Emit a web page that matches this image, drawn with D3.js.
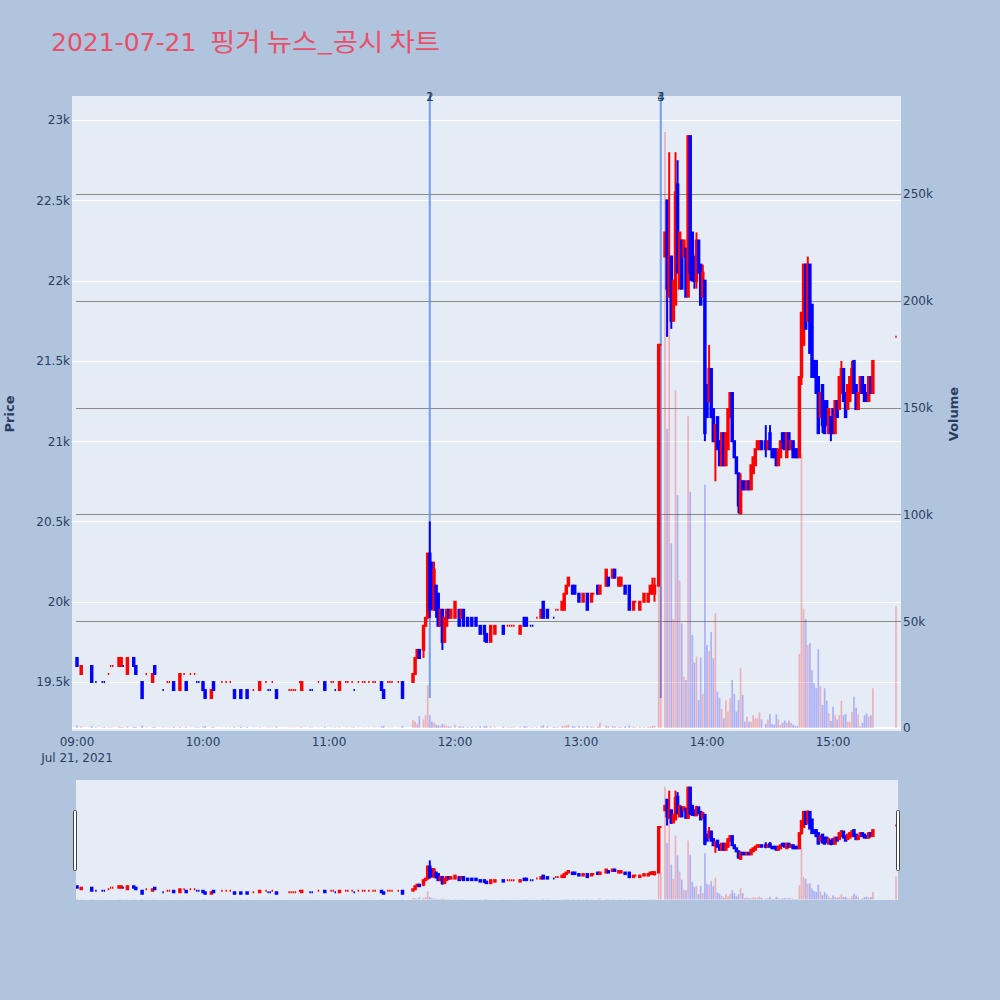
<!DOCTYPE html>
<html>
<head>
<meta charset="utf-8">
<script src="https://cdn.jsdelivr.net/npm/d3@7"></script>
<style>
  html, body { margin: 0; padding: 0; background: #b0c4de; }
  svg { display: block; }
</style>
</head>
<body>
<script>
// ---------------- DATA ----------------
// minutes after 09:00 for each 1-minute candle
const minute = [
  0,2,7,9,12,13,15,16,17,20, 21,22,24,27,28,31,33,36,37,41,
  43,44,46,49,51,52,54,56,57,58, 60,61,64,65,69,71,73,75,78,81,
  84,87,90,91,92,93,95,101,102,103, 104,106,107,111,112,115,118,121,122,123,
  125,128,129,131,132,134,136,137,139,141, 142,145,146,148,149,150,153,155,
  160,161,162,163,165,166,167,168,169,170, 171,172,173,174,175,176,177,178,180,182,
  183,184,186,188,190,192,194,195,197,199, 203,205,206,207,208,211,213,214,216,217,
  219,221,222,224,227,228,229,231,232,233, 234,236,237,239,241,243,245,246,248,249,
  252,253,255,256,258,259,261,263,265,266, 268,270,272,273,274,275,
  277,278,280,281,282,283,284,285,286,287, 288,289,290,291,292,293,294,295,296,297,
  298,299,300,301,302,303,304,305,306,307, 308,309,310,311,312,313,314,315,316,317,
  318,319,320,321,322,323,324,325,326,328, 329,330,331,332,333,334,335,336,337,338,
  339,340,341,342,343,344,345,346,347,348, 349,350,351,352,353,354,355,356,357,358,
  359,360,361,362,363,364,365,366,367,368, 369,370,371,372,373,374,375,376,377,378,
  379,390
];
const open = [
  19650,19550,19600,19500,19500,19500,19550,19600,19600,19600, 19600,19600,19550,19650,19600,19500,19550,19500,19600,19450,
  19500,19500,19500,19450,19550,19500,19550,19550,19500,19500, 19500,19450,19400,19500,19500,19500,19500,19450,19450,19450,
  19450,19450,19500,19450,19450,19500,19450,19450,19450,19450, 19450,19500,19450,19450,19450,19500,19500,19500,19500,19450,
  19450,19500,19500,19500,19450,19500,19500,19500,19500,19500, 19500,19500,19450,19500,19500,19500,19500,19500,
  19500,19550,19650,19700,19700,19850,19900,20300,20150,19950, 20100,20050,19850,19950,19750,19850,19950,19900,19900,19950,
  19900,19950,19900,19900,19900,19850,19850,19800,19750,19800, 19850,19850,19850,19850,19850,19800,19900,19900,19850,19850,
  19900,19900,20000,19950,19900,19950,19950,19950,19950,20050, 20100,20100,20100,20050,20000,20050,20000,20050,20100,20050,
  20100,20150,20150,20200,20100,20100,20100,20100,19950,20000, 19950,20000,20000,20050,20050,20050,
  20100,21600,22150,22500,21900,22150,21750,21850,22600,21950, 22250,22150,22200,21900,22900,22300,22150,22000,22250,22100,
  21900,22000,21350,21250,21450,21200,21000,21150,21000,20850, 21050,20850,20950,21150,21300,21000,20900,20800,20550,20750,
  20750,20700,20750,20700,20800,20850,20950,20950,21000,21000, 20950,21050,20950,20950,20950,20850,20900,21050,21050,20900,
  21050,20950,21000,20950,20950,20900,21400,21600,22100,21750, 22100,21850,21500,21500,21400,21150,21350,21250,21250,21050,
  21150,21200,21050,21250,21200,21300,21450,21300,21200,21250, 21300,21500,21350,21200,21300,21400,21350,21300,21250,21400,
  21300,21650
];
const high = [
  19650,19600,19600,19500,19500,19500,19550,19600,19600,19650, 19650,19600,19650,19650,19600,19500,19550,19550,19600,19450,
  19500,19500,19500,19550,19550,19500,19550,19550,19500,19500, 19500,19450,19450,19500,19500,19500,19500,19450,19450,19450,
  19450,19500,19500,19450,19450,19500,19450,19450,19450,19450, 19450,19500,19500,19450,19450,19500,19500,19500,19500,19450,
  19500,19500,19500,19500,19450,19500,19500,19500,19500,19500, 19500,19500,19450,19500,19500,19500,19500,19500,
  19550,19650,19700,19700,19850,19900,20300,20500,20250,20250, 20100,20050,19950,19950,19900,19950,19950,19950,20000,19950,
  19950,19950,19900,19900,19900,19850,19850,19800,19850,19850, 19850,19850,19850,19850,19850,19850,19900,19900,19850,19850,
  19900,19950,20000,19950,19900,19950,19950,20000,20050,20100, 20150,20100,20100,20050,20050,20050,20050,20050,20100,20100,
  20200,20150,20200,20200,20150,20150,20100,20100,20000,20000, 20000,20050,20050,20100,20150,20150,
  21600,21600,22300,22500,22800,22150,22000,22800,22750,22300, 22250,22250,22200,22900,22900,22300,22150,22300,22250,22100,
  22100,22000,21350,21600,21450,21200,21100,21150,21000,21050, 21050,21050,21200,21300,21300,21000,20900,20800,20800,20750,
  20750,20750,20750,20850,20900,20950,21000,21000,21000,21100, 21000,21100,20950,20950,20950,20950,21000,21050,21050,21050,
  21050,21000,21000,20950,20950,21400,21800,22100,22100,22150, 22100,21850,21500,21500,21400,21300,21350,21250,21250,21200,
  21150,21200,21250,21250,21400,21500,21450,21300,21350,21400, 21500,21500,21350,21300,21400,21400,21350,21300,21400,21400,
  21500,21650
];
const low = [
  19600,19550,19500,19500,19500,19500,19550,19600,19600,19600, 19600,19600,19550,19600,19550,19400,19550,19500,19550,19450,
  19500,19500,19450,19450,19550,19450,19550,19550,19500,19500, 19450,19400,19400,19450,19500,19500,19500,19400,19400,19400,
  19450,19450,19500,19450,19450,19500,19400,19450,19450,19450, 19450,19500,19450,19450,19450,19500,19450,19500,19500,19450,
  19450,19500,19500,19500,19450,19500,19500,19500,19500,19500, 19500,19450,19400,19500,19500,19500,19500,19400,
  19500,19550,19650,19650,19650,19850,19900,19900,19950,19950, 19900,19850,19850,19700,19750,19850,19900,19900,19900,19850,
  19900,19850,19850,19850,19850,19800,19750,19750,19750,19800, 19800,19850,19850,19850,19850,19800,19850,19850,19850,19850,
  19900,19900,19900,19900,19900,19950,19950,19950,19950,20050, 20100,20050,20050,20000,20000,19950,20000,20050,20050,20050,
  20100,20100,20150,20150,20100,20100,20050,19950,19950,20000, 19950,20000,20000,20050,20050,20000,
  20100,21600,22150,21650,21900,21700,21750,21850,22050,21950, 21950,22150,21900,21900,22000,22000,21950,21950,22050,21850,
  21900,21000,21150,21250,21150,21000,20750,20950,20850,20850, 20850,20850,20950,21150,21000,20900,20800,20550,20550,20700,
  20700,20700,20700,20700,20800,20850,20950,20950,20950,20900, 20950,20950,20900,20900,20850,20850,20900,20950,20950,20900,
  20950,20950,20900,20900,20900,20900,21350,21600,21700,21750, 21550,21400,21400,21300,21050,21150,21050,21050,21100,21050,
  21000,21050,21050,21150,21200,21300,21250,21150,21200,21250, 21300,21300,21200,21200,21300,21300,21250,21250,21250,21300,
  21300,21650
];
const close = [
  19600,19600,19500,19500,19500,19500,19550,19600,19600,19650, 19650,19600,19650,19600,19550,19400,19550,19550,19550,19450,
  19500,19500,19450,19550,19550,19450,19550,19550,19500,19500, 19450,19400,19450,19450,19500,19500,19500,19400,19400,19400,
  19450,19500,19500,19450,19450,19500,19400,19450,19450,19450, 19450,19500,19500,19450,19450,19500,19450,19500,19500,19450,
  19500,19500,19500,19500,19450,19500,19500,19500,19500,19500, 19500,19450,19400,19500,19500,19500,19500,19400,
  19550,19650,19700,19650,19850,19900,20300,19950,20000,20200, 19950,19850,19950,19750,19900,19950,19900,19950,20000,19850,
  19950,19850,19850,19850,19850,19800,19800,19750,19850,19850, 19800,19850,19850,19850,19850,19850,19850,19850,19850,19850,
  19900,19950,19900,19900,19900,19950,19950,20000,20050,20100, 20150,20050,20050,20000,20050,19950,20050,20050,20050,20100,
  20200,20100,20200,20150,20150,20150,20050,19950,20000,20000, 20000,20050,20050,20100,20100,20100,
  21600,21600,22300,21950,22150,21750,22000,22550,22050,22300, 21950,22250,21900,22900,22050,22000,22000,22250,22050,21850,
  22050,21050,21150,21450,21150,21000,21100,20950,20850,21050, 20850,21050,21200,21300,21000,20900,20800,20600,20750,20700,
  20700,20750,20700,20850,20900,20950,21000,21000,20950,20950, 21000,20950,20900,20900,20850,20950,21000,21000,20950,21050,
  20950,21000,20900,20900,20900,21400,21800,22100,21700,22100, 21550,21400,21400,21300,21050,21300,21100,21050,21100,21200,
  21050,21050,21250,21150,21400,21450,21250,21150,21350,21400, 21450,21300,21200,21300,21400,21300,21250,21250,21400,21300,
  21500,21650
];
const volume = [
  1200,800,1000,400,300,400,300,300,200,700, 500,300,800,600,500,1200,300,500,400,300,
  200,300,500,600,200,400,200,200,300,300, 500,900,400,400,200,200,200,600,600,500,
  200,400,200,200,200,200,600,200,200,200, 200,200,400,300,200,200,500,200,200,300,
  400,200,200,200,300,200,200,200,200,200, 200,800,1000,200,200,200,200,1000,
  3700,3000,2000,5600,4000,6000,20000,6000,3000,2500, 1500,1200,1000,2000,1500,1000,800,700,1500,800,
  600,700,500,600,400,800,900,1000,700,500, 600,300,300,400,300,600,800,700,300,300,
  400,800,1200,700,500,300,300,900,1000,1200, 1500,900,700,800,600,1000,700,400,600,2500,
  1200,800,900,700,600,500,800,1200,700,400, 600,500,600,700,900,1200,
  150000,66000,279000,140000,269000,86500,51000,158000,109000,69000, 49000,24000,22500,146000,110600,43600,30600,33400,13000,33000,
  16000,114000,38900,36000,45000,32600,53700,17000,14000,9000, 4500,13000,7700,14000,22500,16000,7700,13000,28000,15500,
  3000,5300,3000,3000,6000,4500,4500,7200,4000,1900, 4000,6600,1900,1500,6400,4000,1500,2500,3500,2500,
  3500,2500,1500,1000,1000,34700,128000,55600,51000,38900, 39700,27000,21000,18600,36800,19700,10800,18600,12800,6900,
  3300,10000,6000,4000,6000,12800,6000,6600,3000,3000, 7500,14700,9500,6400,1000,2500,6000,6900,5300,6000,
  18600,57000
];
const hourTicks = ["09:00","10:00","11:00","12:00","13:00","14:00","15:00"];
const priceTicks = [19500,20000,20500,21000,21500,22000,22500,23000];
const priceTickLabels = ["19.5k","20k","20.5k","21k","21.5k","22k","22.5k","23k"];
const volumeTicks = [0,50000,100000,150000,200000,250000];
const volumeTickLabels = ["0","50k","100k","150k","200k","250k"];
const newsTimes = ["11:48","11:48","13:38","13:38"];
const newsLabels = ["1","2","3","4"];
const titleDate = "2021-07-21";
const titleText = "핑거 뉴스_공시 차트";

// ---------------- CHART ----------------
const RED = "#ff0000", BLUE = "#0000ff";
const TXT = "#2a3f5f";
const FONT = "'DejaVu Sans', Verdana, sans-serif";

const svg = d3.select("body").append("svg").attr("width", 1000).attr("height", 1000);
svg.append("rect").attr("width", 1000).attr("height", 1000).attr("fill", "#b0c4de");

const parse = s => d3.timeParse("%Y-%m-%d %H:%M")("2021-07-21 " + s);
const t0 = parse("09:00");

const rows = minute.map((m, i) => ({
  t: d3.timeMinute.offset(t0, m), o: open[i], h: high[i], l: low[i], c: close[i], v: volume[i]
}));
// plotly direction rule (equal open/close -> compare with previous close)
let inc = true, prevC = null;
rows.forEach(d => {
  if (d.c === d.o) { if (prevC !== null && d.c !== prevC) inc = d.c > prevC; }
  else inc = d.c > d.o;
  d.up = inc; prevC = d.c;
});

const X0 = 72, X1 = 901, Y0 = 96, Y1 = 731;
const xDomain = [d3.timeSecond.offset(t0, -143), d3.timeSecond.offset(t0, 23543)];
const x = d3.scaleTime().domain(xDomain).range([X0, X1]);
const pDomain = [19195, 23150], vDomain = [-1404, 295880];
const yP = d3.scaleLinear().domain(pDomain).range([Y1, Y0]);
const yV = d3.scaleLinear().domain(vDomain).range([Y1, Y0]);

// title
svg.append("text").attr("x", 51).attr("y", 51).attr("font-family", FONT)
  .attr("font-size", 25).attr("fill", "#e8506a").text(titleDate);
svg.append("text").attr("x", 210).attr("y", 51)
  .attr("font-family", "'Noto Sans CJK KR', sans-serif")
  .attr("font-size", 24.5).attr("fill", "#e8506a")
  .attr("textLength", 230).attr("lengthAdjust", "spacingAndGlyphs").text(titleText);

// plot background
svg.append("rect").attr("x", X0).attr("y", Y0).attr("width", X1 - X0).attr("height", Y1 - Y0).attr("fill", "#e5ecf6");

const defs = svg.append("defs");
defs.append("clipPath").attr("id", "clipMain").append("rect")
  .attr("x", X0).attr("y", Y0).attr("width", X1 - X0).attr("height", Y1 - Y0);

// grids
const grid = svg.append("g");
grid.selectAll("line.pg").data(priceTicks).join("line")
  .attr("x1", X0).attr("x2", X1).attr("y1", d => Math.round(yP(d)) + 0.5).attr("y2", d => Math.round(yP(d)) + 0.5)
  .attr("stroke", "#ffffff").attr("stroke-width", 1);
grid.selectAll("line.vg").data(volumeTicks.filter(v => v > 0)).join("line")
  .attr("x1", X0 + 4).attr("x2", X1).attr("y1", d => Math.round(yV(d)) + 0.5).attr("y2", d => Math.round(yV(d)) + 0.5)
  .attr("stroke", "#8a8a8a").attr("stroke-width", 1);
grid.append("line").attr("x1", X0).attr("x2", X1).attr("y1", yV(0)).attr("y2", yV(0))
  .attr("stroke", "#ffffff").attr("stroke-width", 2);

// news lines (below traces)
const newsG = svg.append("g").attr("clip-path", "url(#clipMain)");
newsG.selectAll("line").data(newsTimes).join("line")
  .attr("x1", d => x(parse(d))).attr("x2", d => x(parse(d)))
  .attr("y1", Y0).attr("y2", yP(19400))
  .attr("stroke", "#6495ed").attr("stroke-opacity", 0.6).attr("stroke-width", 2);

function drawSeries(g, xs, yp, yv) {
  const step = xs(d3.timeMinute.offset(t0, 1)) - xs(t0);
  const barW = step * 0.8, boxW = step * 0.7;
  g.append("g").selectAll("rect").data(rows).join("rect")
    .attr("x", d => xs(d.t) - barW / 2).attr("width", barW)
    .attr("y", d => yv(d.v)).attr("height", d => Math.max(0, yv(0) - yv(d.v)))
    .attr("fill", d => d.up ? RED : BLUE).attr("fill-opacity", 0.25);
  const cg = g.append("g").selectAll("g").data(rows).join("g");
  cg.append("line")
    .attr("x1", d => xs(d.t)).attr("x2", d => xs(d.t))
    .attr("y1", d => yp(d.h)).attr("y2", d => yp(d.l))
    .attr("stroke", d => d.up ? RED : BLUE).attr("stroke-width", 2);
  // body as a closed path so that open == close still draws a 2px dash
  cg.append("path")
    .attr("d", d => {
      const xl = xs(d.t) - boxW / 2, xr = xs(d.t) + boxW / 2;
      const yt = yp(Math.max(d.o, d.c)), yb = yp(Math.min(d.o, d.c));
      return `M${xl},${yt}H${xr}V${yb}H${xl}Z`;
    })
    .attr("fill", d => d.up ? RED : BLUE).attr("stroke", d => d.up ? RED : BLUE)
    .attr("stroke-width", 2).attr("stroke-linejoin", "miter");
}

const mainG = svg.append("g").attr("clip-path", "url(#clipMain)");
drawSeries(mainG, x, yP, yV);

// news labels
svg.append("g").selectAll("text").data(newsTimes).join("text")
  .attr("x", d => x(parse(d))).attr("y", 100.5).attr("text-anchor", "middle")
  .attr("font-family", FONT).attr("font-size", 11.5).attr("fill", TXT)
  .text((d, i) => newsLabels[i]);

// axes labels
const axG = svg.append("g").attr("font-family", FONT).attr("font-size", 12).attr("fill", TXT);
axG.selectAll("text.yl").data(priceTicks).join("text")
  .attr("x", 70).attr("y", d => yP(d)).attr("dy", "0.36em").attr("text-anchor", "end")
  .text((d, i) => priceTickLabels[i]);
svg.append("g").attr("font-family", FONT).attr("font-size", 12).attr("fill", TXT)
  .selectAll("text").data(volumeTicks).join("text")
  .attr("x", 903).attr("y", d => yV(d)).attr("dy", "0.36em").attr("text-anchor", "start")
  .text((d, i) => volumeTickLabels[i]);
svg.append("g").attr("font-family", FONT).attr("font-size", 12).attr("fill", TXT)
  .selectAll("text").data(hourTicks).join("text")
  .attr("x", d => x(parse(d))).attr("y", 746).attr("text-anchor", "middle").text(d => d);
svg.append("text").attr("x", x(parse(hourTicks[0]))).attr("y", 762).attr("text-anchor", "middle")
  .attr("font-family", FONT).attr("font-size", 12).attr("fill", TXT).text("Jul 21, 2021");

svg.append("text").attr("transform", "translate(14,414) rotate(-90)").attr("text-anchor", "middle")
  .attr("font-family", FONT).attr("font-size", 13).attr("font-weight", "bold").attr("fill", TXT).text("Price");
svg.append("text").attr("transform", "translate(958,414) rotate(-90)").attr("text-anchor", "middle")
  .attr("font-family", FONT).attr("font-size", 13).attr("font-weight", "bold").attr("fill", TXT).text("Volume");

// range slider
const S0 = 76, S1 = 898, SY0 = 780, SY1 = 900;
svg.append("rect").attr("x", S0).attr("y", SY0).attr("width", S1 - S0).attr("height", SY1 - SY0).attr("fill", "#e5ecf6");
defs.append("clipPath").attr("id", "clipSlider").append("rect")
  .attr("x", S0).attr("y", SY0).attr("width", S1 - S0).attr("height", SY1 - SY0);
const ypS = d3.scaleLinear().domain(pDomain).range([SY1, SY0]);
const yvS = d3.scaleLinear().domain(vDomain).range([SY1, SY0]);
const sliderG = svg.append("g").attr("clip-path", "url(#clipSlider)");
drawSeries(sliderG, x, ypS, yvS);
[73.5, 896.5].forEach(hx => {
  svg.append("rect").attr("x", hx).attr("y", 810.5).attr("width", 3).attr("height", 60)
    .attr("rx", 1).attr("fill", "#ffffff").attr("stroke", "#444444").attr("stroke-width", 1);
});
</script>
</body>
</html>
